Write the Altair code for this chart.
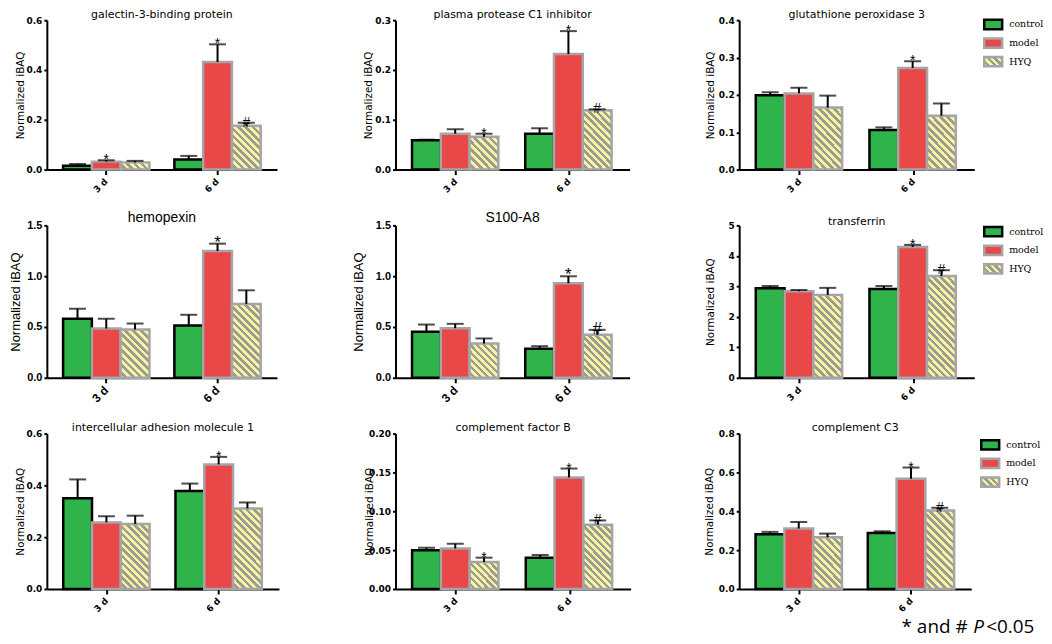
import altair as alt
import pandas as pd

GROUPS = ["3 d", "6 d"]
SERIES = ["control", "model", "HYQ"]

# order of every array: 3 d control, 3 d model, 3 d HYQ, 6 d control, 6 d model, 6 d HYQ
galectin_mean = [0.015, 0.032, 0.029, 0.041, 0.432, 0.176]
galectin_sem = [0.007, 0.006, 0.006, 0.014, 0.071, 0.012]
galectin_sig = ["", "*", "", "", "*", "#"]

c1inh_mean = [0.059, 0.072, 0.066, 0.072, 0.232, 0.119]
c1inh_sem = [0.001, 0.009, 0.006, 0.011, 0.046, 0.002]
c1inh_sig = ["", "", "*", "", "*", "#"]

gpx3_mean = [0.199, 0.204, 0.166, 0.106, 0.272, 0.144]
gpx3_sem = [0.008, 0.015, 0.032, 0.007, 0.018, 0.033]
gpx3_sig = ["", "", "", "", "*", ""]

hemopexin_mean = [0.58, 0.485, 0.475, 0.514, 1.248, 0.727]
hemopexin_sem = [0.10, 0.095, 0.059, 0.106, 0.072, 0.134]
hemopexin_sig = ["", "", "", "", "*", ""]

s100a8_mean = [0.452, 0.488, 0.337, 0.285, 0.930, 0.423]
s100a8_sem = [0.072, 0.043, 0.050, 0.026, 0.069, 0.049]
s100a8_sig = ["", "", "", "", "*", "#"]

transferrin_mean = [2.94, 2.84, 2.72, 2.91, 4.29, 3.34]
transferrin_sem = [0.07, 0.04, 0.23, 0.10, 0.07, 0.19]
transferrin_sig = ["", "", "", "", "*", "#"]

icam1_mean = [0.350, 0.257, 0.251, 0.378, 0.481, 0.311]
icam1_sem = [0.073, 0.024, 0.032, 0.029, 0.029, 0.023]
icam1_sig = ["", "", "", "", "*", ""]

cfb_mean = [0.0497, 0.0522, 0.0347, 0.0403, 0.1435, 0.0827]
cfb_sem = [0.0034, 0.0060, 0.0056, 0.0034, 0.0115, 0.0055]
cfb_sig = ["", "", "*", "", "*", "#"]

c3_mean = [0.282, 0.311, 0.266, 0.288, 0.567, 0.404]
c3_sem = [0.012, 0.034, 0.019, 0.009, 0.058, 0.014]
c3_sig = ["", "", "", "", "*", "#"]

CAPTION = ["* and #", "P", "<0.05"]

GREEN = "#2fb34b"
RED = "#e84848"
YEL = "#f7f3a0"
STRIPE = "#9c9c94"
OUTLINE = "#a5a5a5"

PI, PO = 0.224, 0.146

SMALL = dict(title_font="DejaVu Sans", title_size=11, yt_font="DejaVu Sans", yt_size=10.5,
             lab_font="DejaVu Sans", lab_size=9, xl_size=9, tpad=1, sig_size=14)
BIG = dict(title_font="Liberation Sans", title_size=14, yt_font="Liberation Sans", yt_size=13,
           lab_font="Liberation Sans", lab_size=11, xl_size=12, tpad=2, sig_size=17)


def stripes(w, h, period=5.3):
    span = (w + h) / 2 ** 0.5
    n = max(1, round(span / period))
    t = (w + h) / (w * w + h * h)
    stops = []
    for i in range(n):
        a, b, c = i / n, (i + 0.5) / n, (i + 1) / n
        stops += [alt.GradientStop(offset=a, color=YEL), alt.GradientStop(offset=b, color=YEL),
                  alt.GradientStop(offset=b, color=STRIPE), alt.GradientStop(offset=c, color=STRIPE)]
    return alt.LinearGradient(gradient="linear", stops=stops, x1=0, y1=1, x2=t * w, y2=1 - t * h)


FILL = alt.Scale(domain=SERIES, range=[GREEN, RED, YEL])
STROKE = alt.Scale(domain=SERIES, range=["black", OUTLINE, OUTLINE])


def legend_layer(W, top):
    ldf = pd.DataFrame({"series": SERIES})
    lh = 56
    band = lh / 3 * 0.5
    yl = alt.Y("series:N", sort=SERIES, axis=None,
               scale=alt.Scale(domain=SERIES, range=[top, top + lh], paddingInner=0.5, paddingOuter=0.25))
    x0 = W + 10
    r = alt.Chart(ldf).transform_filter(alt.datum.series != "HYQ").mark_rect(strokeWidth=2.5).encode(
        x=alt.value(x0), x2=alt.value(x0 + 18), y=yl,
        fill=alt.Fill("series:N", scale=FILL, legend=None),
        stroke=alt.Stroke("series:N", scale=STROKE, legend=None),
    )
    rh = alt.Chart(ldf).transform_filter(alt.datum.series == "HYQ").mark_rect(
        fill=stripes(18, band), stroke=OUTLINE, strokeWidth=2.5
    ).encode(x=alt.value(x0), x2=alt.value(x0 + 18), y=yl)
    t = alt.Chart(ldf).mark_text(align="left", baseline="middle", font="DejaVu Serif", fontSize=9.5,
                                 color="black").encode(x=alt.value(x0 + 25), y=yl, text="series:N")
    return alt.layer(r, rh, t)


def caption_layer(W, H):
    cap_df = pd.DataFrame({"t": CAPTION})
    xs = [163, 235, 248]
    styles = ["normal", "italic", "normal"]
    out = []
    for i in range(3):
        out.append(
            alt.Chart(cap_df).transform_filter(alt.datum.t == CAPTION[i]).mark_text(
                align="left", baseline="alphabetic", font="Open Sans", fontSize=19, fontStyle=styles[i],
                color="black"
            ).encode(x=alt.value(xs[i]), y=alt.value(H + 44), text="t:N")
        )
    return out


def panel(title, mean, sem, sig, ymax, ticks, fmt, W, H, st, toff, ext, legend_top=None, caption=False):
    df = pd.DataFrame({
        "group": [g for g in GROUPS for _ in SERIES],
        "series": SERIES * 2,
        "value": mean,
        "top": [m + s for m, s in zip(mean, sem)],
        "sig": sig,
    })
    x = alt.X("group:N", sort=GROUPS,
              scale=alt.Scale(domain=GROUPS, paddingInner=PI, paddingOuter=PO),
              axis=alt.Axis(title=None, labelAngle=-45, labelAlign="right", labelBaseline="middle",
                            labelFont=st["lab_font"], labelFontSize=st["xl_size"], labelFontWeight="bold",
                            labelColor="black", domainColor="black", domainWidth=2, tickColor="black",
                            tickWidth=2, tickSize=5, labelPadding=5))
    xo = alt.XOffset("series:N", sort=SERIES, scale=alt.Scale(domain=SERIES, paddingInner=0, paddingOuter=0))

    def yenc(field):
        return alt.Y(field, scale=alt.Scale(domain=[0, ymax], nice=False),
                     axis=alt.Axis(title="Normalized iBAQ", values=ticks, format=fmt, grid=False,
                                   domainColor="black", domainWidth=2, tickColor="black", tickWidth=2,
                                   tickSize=3, labelPadding=2, labelFont=st["lab_font"],
                                   labelFontSize=st["lab_size"], labelFontWeight="bold", labelColor="black",
                                   titleFont=st["yt_font"], titleFontSize=st["yt_size"],
                                   titleFontWeight="normal", titleColor="black", titlePadding=st["tpad"],
                                   minExtent=ext, maxExtent=ext, labelOverlap=False))

    base = alt.Chart(df)
    bars = base.transform_filter(alt.datum.series != "HYQ").mark_bar(strokeWidth=2.5).encode(
        x=x, xOffset=xo, y=yenc("value:Q"),
        fill=alt.Fill("series:N", scale=FILL, legend=None),
        stroke=alt.Stroke("series:N", scale=STROKE, legend=None),
    )
    step = W / (2 - PI + 2 * PO)
    bw = step * (1 - PI) / 3
    layers = [bars]
    for gi, g in enumerate(GROUPS):
        h = mean[gi * 3 + 2] / ymax * H
        layers.append(
            base.transform_filter((alt.datum.series == "HYQ") & (alt.datum.group == g))
            .mark_bar(fill=stripes(bw, h), stroke=OUTLINE, strokeWidth=2.5)
            .encode(x=x, xOffset=xo, y=yenc("value:Q"))
        )
    err = base.mark_rule(color="black", strokeWidth=2).encode(x=x, xOffset=xo, y=yenc("value:Q"), y2="top:Q")
    caps = base.mark_tick(color="black", thickness=2, size=17).encode(x=x, xOffset=xo, y=yenc("top:Q"))
    txt = base.transform_filter(alt.datum.sig != "").mark_text(
        baseline="alphabetic", dy=4, fontSize=st["sig_size"], font="Liberation Sans", color="black"
    ).encode(x=x, xOffset=xo, y=yenc("top:Q"), text="sig:N")
    layers += [err, caps, txt]
    if caption:
        layers += caption_layer(W, H)
    main = alt.layer(*layers)
    if legend_top is not None:
        main = alt.layer(main, legend_layer(W, legend_top)).resolve_scale(y="independent")
    return main.properties(
        width=W, height=H,
        title=alt.TitleParams(title, font=st["title_font"], fontSize=st["title_size"], fontWeight="normal",
                              color="black", offset=toff, anchor="middle"),
    )


H1, H2, H3 = 150, 153, 156
p1 = panel("galectin-3-binding protein", galectin_mean, galectin_sem, galectin_sig, 0.6, [0, 0.2, 0.4, 0.6], ".1f", 231, H1, SMALL, -4, 20)
p2 = panel("plasma protease C1 inhibitor", c1inh_mean, c1inh_sem, c1inh_sig, 0.3, [0, 0.1, 0.2, 0.3], ".1f", 235, H1, SMALL, -4, 21)
p3 = panel("glutathione peroxidase 3", gpx3_mean, gpx3_sem, gpx3_sig, 0.4, [0, 0.1, 0.2, 0.3, 0.4], ".1f", 236, H1, SMALL, -4, 23, legend_top=-5)
p4 = panel("hemopexin", hemopexin_mean, hemopexin_sem, hemopexin_sig, 1.5, [0, 0.5, 1.0, 1.5], ".1f", 231, H2, BIG, -6, 22)
p5 = panel("S100-A8", s100a8_mean, s100a8_sem, s100a8_sig, 1.5, [0, 0.5, 1.0, 1.5], ".1f", 235, H2, BIG, -6, 28)
p6 = panel("transferrin", transferrin_mean, transferrin_sem, transferrin_sig, 5, [0, 1, 2, 3, 4, 5], "d", 236, H2, SMALL, -6, 23, legend_top=-3)
p7 = panel("intercellular adhesion molecule 1", icam1_mean, icam1_sem, icam1_sig, 0.6, [0, 0.2, 0.4, 0.6], ".1f", 233, H3, SMALL, -3, 20)
p8 = panel("complement factor B", cfb_mean, cfb_sem, cfb_sig, 0.2, [0, 0.05, 0.1, 0.15, 0.2], ".2f", 236, H3, SMALL, -3, 20)
p9 = panel("complement C3", c3_mean, c3_sem, c3_sig, 0.8, [0, 0.2, 0.4, 0.6, 0.8], ".1f", 233, H3, SMALL, -3, 24, legend_top=2, caption=True)

chart = alt.concat(p1, p2, p3, p4, p5, p6, p7, p8, p9, columns=3,
                   spacing={"row": 17, "column": 74}, align="each",
                   padding={"left": 2, "top": 0, "right": 0, "bottom": 0}) \
    .configure_view(stroke=None)

chart.save("out.html", embed_options={"renderer": "svg", "actions": False})
